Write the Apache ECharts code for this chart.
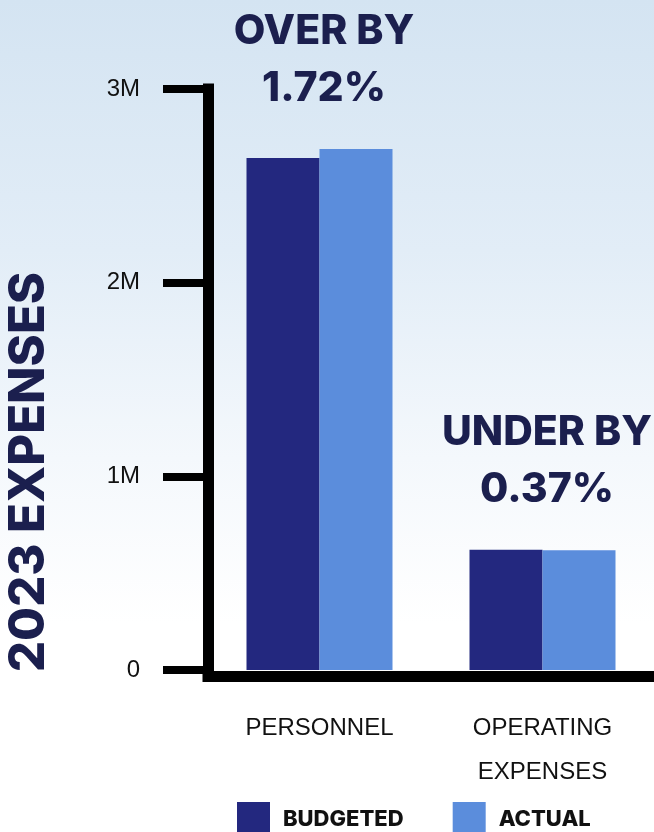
<!DOCTYPE html>
<html>
<head>
<meta charset="utf-8">
<script src="https://cdn.jsdelivr.net/npm/echarts@6/dist/echarts.min.js"></script>
<style>
  html, body { margin: 0; padding: 0; }
  #chart { width: 654px; height: 832px; }
</style>
</head>
<body>
<div id="chart"></div>
<script>
const categories = ['PERSONNEL', 'OPERATING\nEXPENSES'];
const seriesNames = ['BUDGETED', 'ACTUAL'];
const budgeted = [2644000, 621000];
const actual = [2690000, 618700];
const annotationHeads = ['OVER BY', 'UNDER BY'];
const annotationPcts = ['1.72%', '0.37%'];
const yTickLabels = { 0: '0', 1000000: '1M', 2000000: '2M', 3000000: '3M' };
const title = '2023 EXPENSES';

const navy = '#1b1f4e';
const chart = echarts.init(document.getElementById('chart'), null, { renderer: 'canvas' });

chart.setOption({
  animation: false,
  backgroundColor: {
    type: 'linear', x: 0, y: 0, x2: 0, y2: 1,
    colorStops: [
      { offset: 0, color: '#d4e4f2' },
      { offset: 0.3, color: '#e2edf7' },
      { offset: 0.55, color: '#f4f8fc' },
      { offset: 0.75, color: '#ffffff' },
      { offset: 1, color: '#ffffff' }
    ]
  },
  grid: { left: 208, right: 0, top: 89, bottom: 162, containLabel: false },
  legend: {
    left: 232, top: 797,
    itemWidth: 33, itemHeight: 34, itemGap: 49,
    icon: 'rect',
    data: seriesNames,
    textStyle: { fontFamily: 'Inter', fontWeight: 800, fontSize: 22, color: '#111', padding: [0, 0, 0, 8] }
  },
  xAxis: {
    type: 'category',
    data: categories,
    position: 'bottom',
    axisLine: { onZero: false, lineStyle: { color: '#000', width: 11, cap: 'square' } },
    offset: 6,
    axisTick: { show: false },
    axisLabel: {
      margin: 30, fontFamily: 'Liberation Sans', fontSize: 24, color: '#111',
      lineHeight: 44, interval: 0
    }
  },
  yAxis: {
    type: 'value',
    min: 0, max: 3000000, interval: 1000000,
    axisLine: { show: true, lineStyle: { color: '#000', width: 11, cap: 'square' } },
    axisTick: { show: true, length: 45, lineStyle: { color: '#000', width: 8 } },
    splitLine: { show: false },
    axisLabel: {
      margin: 68, fontFamily: 'Liberation Sans', fontSize: 24, color: '#111',
      formatter: v => yTickLabels[v] !== undefined ? yTickLabels[v] : ''
    }
  },
  series: [
    {
      name: seriesNames[0], type: 'bar', data: budgeted,
      barWidth: 73, barGap: '0%',
      itemStyle: { color: '#23287f' }
    },
    {
      name: seriesNames[1], type: 'bar', data: actual,
      barWidth: 73, barGap: '0%',
      itemStyle: { color: '#5b8ddc' },
      label: {
        show: true, position: 'top', distance: 32, offset: [-32, 0],
        formatter: p => annotationHeads[p.dataIndex] + '\n' + annotationPcts[p.dataIndex],
        fontFamily: 'Inter', fontWeight: 800, fontSize: 41, lineHeight: 57,
        color: navy, align: 'center'
      }
    }
  ],
  graphic: [
    {
      type: 'text',
      x: 29, y: 472,
      rotation: Math.PI / 2,
      style: {
        text: title,
        fontFamily: 'Inter', fontWeight: 800, fontSize: 49,
        fill: navy, align: 'center', verticalAlign: 'middle'
      }
    }
  ]
});
</script>
</body>
</html>
